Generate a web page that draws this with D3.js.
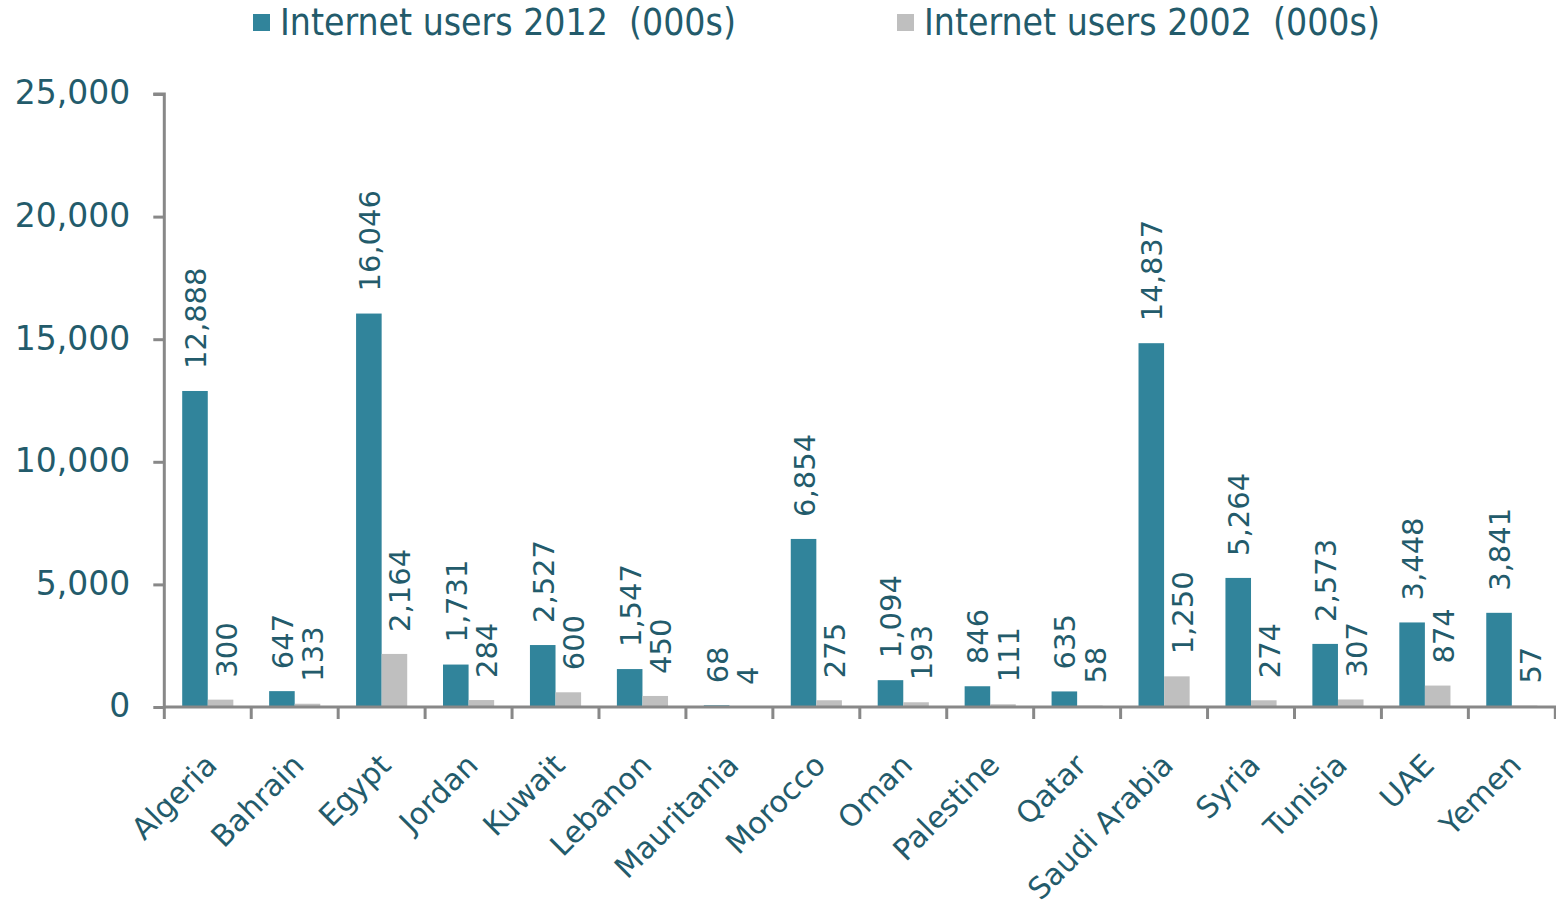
<!DOCTYPE html>
<html>
<head>
<meta charset="utf-8">
<script src="https://cdn.jsdelivr.net/npm/d3@7"></script>
<style>
  html, body { margin: 0; padding: 0; background: #ffffff; }
  svg { display: block; }
</style>
</head>
<body>
<svg id="chart" width="1556" height="914"></svg>
<script>
const categories = ["Algeria","Bahrain","Egypt","Jordan","Kuwait","Lebanon","Mauritania","Morocco","Oman","Palestine","Qatar","Saudi Arabia","Syria","Tunisia","UAE","Yemen"];
const seriesNames = ["Internet users 2012  (000s)", "Internet users 2002  (000s)"];
const users2012 = [12888, 647, 16046, 1731, 2527, 1547, 68, 6854, 1094, 846, 635, 14837, 5264, 2573, 3448, 3841];
const users2002 = [300, 133, 2164, 284, 600, 450, 4, 275, 193, 111, 58, 1250, 274, 307, 874, 57];
const yTicks = [0, 5000, 10000, 15000, 20000, 25000];

const seriesValues = [users2012, users2002];
const colors = ["#31849B", "#BFBFBF"];
const textColor = "#235B6B";
const axisColor = "#888888";
const fontMain = "'DejaVu Sans', Verdana, sans-serif";
const fontLegend = "'DejaVu Sans Condensed', 'DejaVu Sans', sans-serif";

const svg = d3.select("#chart");
const plotLeft = 164.3, plotRight = 1555.3, plotTop = 94, plotBottom = 707;

const x = d3.scaleBand().domain(categories).range([plotLeft, plotRight]).padding(0);
const xInner = d3.scaleBand().domain(d3.range(seriesValues.length)).range([0, x.bandwidth()]).paddingInner(0).paddingOuter(0.7);
const y = d3.scaleLinear().domain([0, 25000]).range([plotBottom, plotTop]);
const fmt = d3.format(",");

// bars
seriesValues.forEach((vals, si) => {
  svg.append("g").selectAll("rect")
    .data(vals)
    .join("rect")
    .attr("x", (d, i) => x(categories[i]) + xInner(si))
    .attr("y", d => y(d))
    .attr("width", xInner.bandwidth())
    .attr("height", d => y(0) - y(d))
    .attr("fill", colors[si]);
});

// data labels
const labelGap = 22;
seriesValues.forEach((vals, si) => {
  svg.append("g").selectAll("text")
    .data(vals)
    .join("text")
    .attr("transform", (d, i) => {
      const cx = x(categories[i]) + xInner(si) + xInner.bandwidth() / 2 + (si === 1 ? 6 : 1);
      return `translate(${cx},${y(d) - labelGap}) rotate(-90)`;
    })
    .attr("text-anchor", "start")
    .attr("dominant-baseline", "central")
    .attr("font-family", fontMain)
    .attr("font-size", 29)
    .attr("fill", textColor)
    .text(d => fmt(d));
});

// y axis
const yAxis = d3.axisLeft(y).tickValues(yTicks).tickFormat(fmt).tickSize(11).tickPadding(23);
const gy = svg.append("g").attr("transform", `translate(${plotLeft},0)`).call(yAxis);
gy.select(".domain").attr("stroke", axisColor).attr("stroke-width", 3).attr("d", `M-11,${plotTop}H0V${plotBottom}`);
gy.selectAll(".tick line").attr("stroke", axisColor).attr("stroke-width", 3);
gy.selectAll(".tick text").attr("fill", textColor).attr("font-family", fontMain).attr("font-size", 33).attr("dy", "0.3em");

// x axis
const gx = svg.append("g").attr("transform", `translate(0,${plotBottom})`);
gx.append("line").attr("x1", plotLeft).attr("x2", plotRight + 1).attr("y1", 0).attr("y2", 0)
  .attr("stroke", axisColor).attr("stroke-width", 3);
const boundaries = categories.map(c => x(c)).concat([plotRight]);
gx.selectAll("line.tk").data(boundaries).join("line").attr("class", "tk")
  .attr("x1", d => d).attr("x2", d => d).attr("y1", 0).attr("y2", 12)
  .attr("stroke", axisColor).attr("stroke-width", 3);
gx.selectAll("text").data(categories).join("text")
  .attr("transform", d => `translate(${x(d) + x.bandwidth() / 2 + 11},${60}) rotate(-45)`)
  .attr("text-anchor", "end")
  .attr("font-family", fontMain)
  .attr("font-size", 30)
  .attr("fill", textColor)
  .text(d => d);

// legend
const legendX = [253, 897];
seriesNames.forEach((name, si) => {
  const g = svg.append("g").attr("transform", `translate(${legendX[si]},0)`);
  g.append("rect").attr("x", 0).attr("y", 14).attr("width", 17).attr("height", 17).attr("fill", colors[si]);
  g.append("text").attr("x", 27).attr("y", 35)
    .attr("font-family", fontLegend)
    .attr("font-size", 37)
    .attr("fill", textColor)
    .style("white-space", "pre")
    .text(name);
});
</script>
</body>
</html>
